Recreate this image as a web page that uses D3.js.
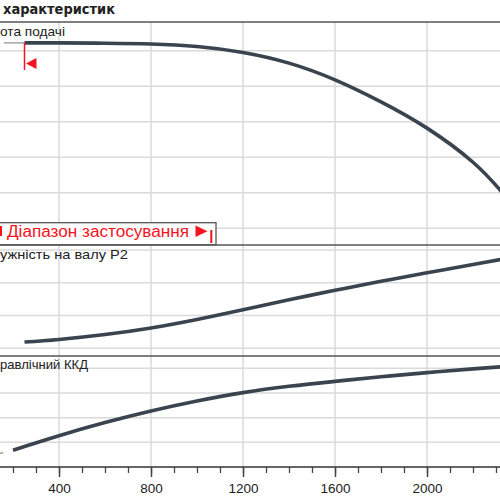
<!DOCTYPE html>
<html><head><meta charset="utf-8">
<script src="https://cdn.jsdelivr.net/npm/d3@7"></script>
<style>body{margin:0;background:#fff}svg{display:block}</style>
</head><body><script>
// ---- data ----
const xTicks = [400, 800, 1200, 1600, 2000, 2400];
const xTickLabels = [400, 800, 1200, 1600, 2000];
const xMinorTicks = d3.range(100, 2401, 100);
const headQ = [250, 400, 600, 800, 1000, 1200, 1400, 1600, 1800, 2000, 2200, 2320, 2400];
const headVals = [62.2, 62.2, 62.1, 61.9, 61.2, 59.5, 56.5, 51.8, 45.6, 38.2, 28.6, 20.6, 14.6];
const headThinQ = [160, 250];
const headThinVals = [62.2, 62.2];
const powerQ = [250, 400, 600, 800, 1000, 1200, 1400, 1600, 1800, 2000, 2200, 2320, 2400];
const powerVals = [23.8, 25.4, 28.4, 32.4, 37.6, 43.5, 49.6, 55.4, 60.9, 66.1, 71.2, 74.2, 76.2];
const effQ = [200, 250, 400, 600, 800, 1000, 1200, 1400, 1600, 1800, 2000, 2200, 2320, 2400];
const effVals = [13.6, 16.6, 25.4, 36.0, 45.4, 53.5, 60.3, 65.4, 69.4, 73.1, 76.5, 79.5, 81.2, 82.2];
const effThinQ = [140, 158];
const effThinVals = [10.8, 11.6];
const headGrid = [10, 20, 30, 40, 50, 60];
const powerGrid = [20, 40, 60, 80];
const effGrid = [20, 40, 60, 80];
const titleText = "характеристик";
const labelHead = "ота подачі";
const labelPower = "ужність на валу  P2";
const labelEff = "равлічний ККД";
const rangeText = "Діапазон застосування";

// ---- layout ----
const W = 500, H = 500;
const svg = d3.select("body").append("svg").attr("width", W).attr("height", H);
const x = d3.scaleLinear().domain([0, 2400]).range([-33, 519]);
const yHead = d3.scaleLinear().domain([10, 60]).range([228.3, 50.7]);
const yPower = d3.scaleLinear().domain([20, 80]).range([348.3, 250]);
const yEff = d3.scaleLinear().domain([0, 80]).range([467, 368.3]);
const gridColor = "#dadada", borderColor = "#555", curveColor = "#3a444f", red = "#f5141e";
const font = "'Liberation Sans', Arial, sans-serif";

// gridlines
const g = svg.append("g");
function hgrid(scale, vals){
  g.selectAll(null).data(vals).enter().append("line")
   .attr("x1", 0).attr("x2", W).attr("y1", d => scale(d)).attr("y2", d => scale(d))
   .attr("stroke", gridColor).attr("stroke-width", 1.5);
}
hgrid(yHead, headGrid); hgrid(yPower, powerGrid); hgrid(yEff, effGrid);
g.selectAll(null).data(xTicks).enter().append("line")
 .attr("x1", d => x(d)).attr("x2", d => x(d)).attr("y1", 22).attr("y2", 467)
 .attr("stroke", gridColor).attr("stroke-width", 1.5);

// panel borders
[22, 245, 356].forEach(yy => svg.append("line").attr("x1", 0).attr("x2", W)
  .attr("y1", yy).attr("y2", yy).attr("stroke", borderColor).attr("stroke-width", 1.5));

// curves
function curve(qs, vs, ys, color, w){
  const line = d3.line().x(d => x(d[0])).y(d => ys(d[1])).curve(d3.curveNatural);
  svg.append("path").datum(d3.zip(qs, vs)).attr("d", line)
    .attr("fill", "none").attr("stroke", color).attr("stroke-width", w).attr("stroke-linecap", "butt");
}
curve(headThinQ, headThinVals, yHead, "#8a8f95", 1.2);
curve(effThinQ, effThinVals, yEff, "#8a8f95", 1.2);
curve(headQ, headVals, yHead, curveColor, 3.6);
curve(powerQ, powerVals, yPower, curveColor, 3.6);
curve(effQ, effVals, yEff, curveColor, 3.6);

// title and labels
svg.append("text").attr("x", 3).attr("y", 13.5).text(titleText)
  .attr("font-family", "'DejaVu Sans', Verdana, sans-serif").attr("font-weight", "bold")
  .attr("font-size", 14.5).attr("fill", "#222").attr("textLength", 112).attr("lengthAdjust", "spacingAndGlyphs");
function label(t, yy, len){
  svg.append("text").attr("x", 0).attr("y", yy).text(t).attr("font-family", font)
    .attr("font-size", 13).attr("fill", "#222").attr("textLength", len).attr("lengthAdjust", "spacingAndGlyphs");
}
label(labelHead, 35.5, 65);
label(labelPower, 258.7, 128);
label(labelEff, 369.3, 88);

// red range marker in head panel
svg.append("line").attr("x1", x(headQ[0])).attr("x2", x(headQ[0])).attr("y1", yHead(headVals[0]))
  .attr("y2", 70).attr("stroke", red).attr("stroke-width", 1.5);
const tx = x(headQ[0]) + 1.5;
svg.append("path").attr("d", `M${tx},63.5 L${tx+10.5},58 L${tx+10.5},69 Z`).attr("fill", red);

// application range box
svg.append("rect").attr("x", -10).attr("y", 222.7).attr("width", 226).attr("height", 22)
  .attr("fill", "#fff").attr("stroke", borderColor).attr("stroke-width", 1.3);
svg.append("rect").attr("x", 0).attr("y", 226).attr("width", 2).attr("height", 10).attr("fill", red);
svg.append("text").attr("x", 7).attr("y", 237).text(rangeText).attr("font-family", font)
  .attr("font-size", 16).attr("fill", red).attr("textLength", 182).attr("lengthAdjust", "spacingAndGlyphs");
svg.append("path").attr("d", "M195.5,225.5 L207.5,231.2 L195.5,236.9 Z").attr("fill", red);
svg.append("rect").attr("x", 210.3).attr("y", 230).attr("width", 2).attr("height", 13).attr("fill", red);

// x axis
const minor = svg.append("g").attr("transform", "translate(0,467)")
  .call(d3.axisBottom(x).tickValues(xMinorTicks).tickSize(6).tickFormat(""));
minor.select(".domain").remove();
minor.selectAll("line").attr("stroke", "#444").attr("stroke-width", 1.3);
const ax = svg.append("g").attr("transform", "translate(0,467)")
  .call(d3.axisBottom(x).tickValues(xTickLabels).tickSize(10).tickFormat(d3.format("d")));
ax.select(".domain").attr("d", `M0,0H${W}`).attr("stroke", "#333").attr("stroke-width", 1.6);
ax.selectAll("line").attr("stroke", "#444").attr("stroke-width", 1.5);
ax.selectAll("text").attr("y", 26).attr("dy", 0).attr("font-family", font)
  .attr("font-size", 13.5).attr("fill", "#222");
</script></body></html>
